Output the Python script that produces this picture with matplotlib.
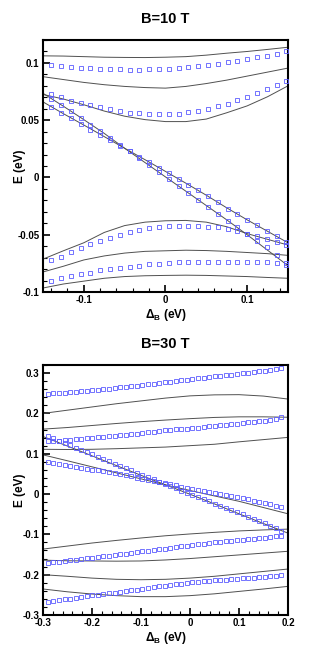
import numpy as np
import matplotlib
matplotlib.use("Agg")
import matplotlib.pyplot as plt
from matplotlib.ticker import MultipleLocator, FuncFormatter

plt.rcParams['font.family'] = ['Liberation Sans', 'DejaVu Sans']
plt.rcParams['axes.unicode_minus'] = False
plt.rcParams['mathtext.fontset'] = 'custom'
plt.rcParams['mathtext.bf'] = 'Liberation Sans:bold'
plt.rcParams['mathtext.rm'] = 'Liberation Sans'

# ---------------- B = 10 T ----------------
x_line10 = [-0.15, -0.125, -0.1, -0.075, -0.05, -0.025, 0.0, 0.025, 0.05, 0.075, 0.1, 0.125, 0.15]
t1 = [0.1062, 0.106, 0.1055, 0.105, 0.1048, 0.1047, 0.105, 0.1055, 0.1068, 0.1085, 0.110, 0.1118, 0.1137]
t2 = [0.088, 0.0855, 0.083, 0.081, 0.0795, 0.0785, 0.078, 0.0795, 0.082, 0.085, 0.0885, 0.092, 0.0955]
t3 = [0.0725, 0.0685, 0.0635, 0.058, 0.0535, 0.0505, 0.0488, 0.0488, 0.051, 0.0565, 0.0625, 0.0705, 0.080]
da_line = [0.066, 0.0557, 0.0458, 0.0357, 0.0255, 0.0155, 0.0053, -0.005, -0.0155, -0.0265, -0.037, -0.047, -0.057]
db_line = [0.0735, 0.0622, 0.0505, 0.0385, 0.0255, 0.013, 0.0005, -0.012, -0.0245, -0.037, -0.050, -0.0635, -0.077]
t4 = [-0.0713, -0.064, -0.057, -0.048, -0.042, -0.039, -0.0378, -0.0375, -0.039, -0.043, -0.049, -0.054, -0.059]
t5 = [-0.0825, -0.0775, -0.072, -0.0685, -0.066, -0.0645, -0.064, -0.0635, -0.0638, -0.0645, -0.0655, -0.0665, -0.068]
t6 = [-0.0965, -0.093, -0.0905, -0.088, -0.0865, -0.0858, -0.0855, -0.0853, -0.0855, -0.086, -0.0865, -0.0873, -0.088]

x_sq10 = [-0.14, -0.128, -0.116, -0.104, -0.092, -0.08, -0.068, -0.056, -0.044, -0.032, -0.02, -0.008,
          0.004, 0.016, 0.028, 0.04, 0.052, 0.064, 0.076, 0.088, 0.1, 0.112, 0.124, 0.136, 0.148]
s1 = [0.098, 0.0972, 0.0965, 0.0958, 0.0952, 0.0948, 0.0945, 0.0943, 0.0942, 0.0942, 0.0943, 0.0945,
      0.0947, 0.0959, 0.0968, 0.0974, 0.0982, 0.0991, 0.1006, 0.1018, 0.1032, 0.105, 0.1064, 0.1082, 0.1103]
s2 = [0.0728, 0.0699, 0.067, 0.0646, 0.0629, 0.0611, 0.0594, 0.0579, 0.0567, 0.0561, 0.0557, 0.0554,
      0.0553, 0.0558, 0.0568, 0.058, 0.0598, 0.062, 0.0645, 0.0673, 0.0703, 0.0735, 0.0769, 0.0807, 0.0845]
sa = [0.0617, 0.0567, 0.0515, 0.047, 0.0418, 0.0374, 0.033, 0.0278, 0.0231, 0.0183, 0.0135, 0.0086,
      0.0037, -0.0013, -0.0063, -0.0113, -0.0164, -0.0217, -0.0275, -0.032, -0.0368, -0.0415, -0.0465, -0.0515, -0.0561]
sb = [0.0685, 0.0632, 0.0579, 0.052, 0.0462, 0.0406, 0.0348, 0.0285, 0.0228, 0.017, 0.011, 0.0048,
      -0.0015, -0.0075, -0.0135, -0.0195, -0.0255, -0.032, -0.0377, -0.0436, -0.0494, -0.0553, -0.061, -0.0678, -0.0766]
s3 = [-0.0722, -0.069, -0.0652, -0.0617, -0.0582, -0.0553, -0.0529, -0.05, -0.048, -0.0459, -0.0444, -0.0436,
      -0.0427, -0.0424, -0.0421, -0.0424, -0.043, -0.0436, -0.045, -0.0465, -0.049, -0.051, -0.0538, -0.056, -0.059]
s4 = [-0.0904, -0.088, -0.086, -0.0845, -0.083, -0.0807, -0.0798, -0.0788, -0.0778, -0.0769, -0.0759, -0.0751,
      -0.0746, -0.0741, -0.0738, -0.0736, -0.0735, -0.0735, -0.0736, -0.0737, -0.0738, -0.074, -0.0742, -0.0745, -0.0745]

# ---------------- B = 30 T ----------------
x_line30 = [-0.3, -0.25, -0.2, -0.15, -0.1, -0.05, 0.0, 0.05, 0.1, 0.15, 0.2]
l1 = [0.2, 0.208, 0.216, 0.224, 0.231, 0.238, 0.2435, 0.246, 0.2465, 0.243, 0.2356]
l2 = [0.161, 0.165, 0.17, 0.175, 0.1795, 0.1835, 0.187, 0.19, 0.1915, 0.1915, 0.1905]
l3 = [0.111, 0.1105, 0.111, 0.1125, 0.1145, 0.1165, 0.12, 0.1235, 0.1295, 0.135, 0.1405]
d1 = [0.1427, 0.119, 0.0948, 0.0705, 0.0465, 0.0228, -0.0005, -0.0245, -0.049, -0.0732, -0.097]
d2 = [0.0972, 0.0825, 0.0675, 0.0525, 0.0377, 0.0227, 0.0088, -0.0047, -0.018, -0.0335, -0.049]
l4 = [-0.1365, -0.129, -0.1215, -0.115, -0.109, -0.1035, -0.099, -0.095, -0.0915, -0.089, -0.087]
l5 = [-0.164, -0.1655, -0.166, -0.1665, -0.166, -0.1635, -0.16, -0.1555, -0.151, -0.1465, -0.142]
l6 = [-0.2, -0.204, -0.2085, -0.2115, -0.2125, -0.2115, -0.2085, -0.204, -0.198, -0.192, -0.186]
l7 = [-0.2355, -0.2425, -0.248, -0.252, -0.2545, -0.2545, -0.252, -0.2475, -0.2415, -0.2355, -0.229]

x_sq30 = [-0.290, -0.2787, -0.2673, -0.2560, -0.2446, -0.2333, -0.2219, -0.2106, -0.1992, -0.1879, -0.1765,
          -0.1652, -0.1538, -0.1425, -0.1311, -0.1198, -0.1084, -0.0971, -0.0857, -0.0744, -0.0630, -0.0517,
          -0.0403, -0.0290, -0.0176, -0.0063, 0.0051, 0.0164, 0.0278, 0.0391, 0.0505, 0.0618, 0.0732,
          0.0845, 0.0959, 0.1072, 0.1186, 0.1299, 0.1413, 0.1526, 0.1640, 0.1753, 0.1867]
r1 = [0.2487, 0.2497, 0.2508, 0.2518, 0.2530, 0.2541, 0.2552, 0.2563, 0.2574, 0.2588, 0.2602, 0.2616, 0.2630,
      0.2644, 0.2659, 0.2674, 0.2689, 0.2704, 0.2722, 0.2739, 0.2756, 0.2773, 0.2789, 0.2805, 0.2820, 0.2836,
      0.2852, 0.2868, 0.2884, 0.2900, 0.2916, 0.2932, 0.2948, 0.2964, 0.2980, 0.2995, 0.3011, 0.3027, 0.3043,
      0.3060, 0.3080, 0.3101, 0.3125]
r2 = [0.1304, 0.1316, 0.1327, 0.1339, 0.1351, 0.1363, 0.1376, 0.1388, 0.1401, 0.1412, 0.1424, 0.1435, 0.1446,
      0.1458, 0.1472, 0.1486, 0.1499, 0.1514, 0.1530, 0.1546, 0.1562, 0.1578, 0.1590, 0.1601, 0.1613, 0.1624,
      0.1636, 0.1650, 0.1663, 0.1677, 0.1691, 0.1704, 0.1718, 0.1731, 0.1745, 0.1759, 0.1775, 0.1791, 0.1807,
      0.1823, 0.1846, 0.1870, 0.1900]
q1 = [0.145, 0.139, 0.1328, 0.1266, 0.1205, 0.1148, 0.1091, 0.1035, 0.0981, 0.0924, 0.0867, 0.0810, 0.0754,
      0.0698, 0.0643, 0.0587, 0.0531, 0.0476, 0.0420, 0.0365, 0.0310, 0.0253, 0.0197, 0.0142, 0.0086, 0.0031,
      -0.0024, -0.0077, -0.0131, -0.0184, -0.0237, -0.0290, -0.0343, -0.0396, -0.0450, -0.0504, -0.0560,
      -0.0615, -0.0671, -0.0726, -0.0785, -0.0845, -0.0910]
q2 = [0.0785, 0.0762, 0.0740, 0.0717, 0.0694, 0.0672, 0.0651, 0.0629, 0.0608, 0.0585, 0.0562, 0.0540, 0.0517,
      0.0492, 0.0465, 0.0437, 0.0410, 0.0383, 0.0355, 0.0328, 0.0301, 0.0274, 0.0245, 0.0215, 0.0186, 0.0156,
      0.0127, 0.0100, 0.0073, 0.0046, 0.0019, -0.0006, -0.0031, -0.0056, -0.0081, -0.0108, -0.0135, -0.0162,
      -0.0190, -0.0218, -0.0253, -0.0288, -0.0325]
r3 = [-0.1716, -0.1697, -0.1678, -0.1660, -0.1641, -0.1626, -0.1611, -0.1597, -0.1582, -0.1564, -0.1546,
      -0.1528, -0.1510, -0.1493, -0.1475, -0.1457, -0.1439, -0.1421, -0.1403, -0.1386, -0.1369, -0.1352,
      -0.1335, -0.1318, -0.1301, -0.1284, -0.1267, -0.1249, -0.1231, -0.1213, -0.1194, -0.1181, -0.1168,
      -0.1155, -0.1142, -0.1129, -0.1116, -0.1103, -0.1090, -0.1078, -0.1064, -0.1050, -0.1035]
r4 = [-0.2670, -0.2650, -0.2630, -0.2611, -0.2592, -0.2573, -0.2553, -0.2534, -0.2514, -0.2497, -0.2480,
      -0.2463, -0.2445, -0.2427, -0.2409, -0.2390, -0.2372, -0.2354, -0.2334, -0.2313, -0.2293, -0.2272,
      -0.2255, -0.2240, -0.2224, -0.2208, -0.2193, -0.2180, -0.2168, -0.2156, -0.2144, -0.2134, -0.2124,
      -0.2114, -0.2104, -0.2094, -0.2084, -0.2074, -0.2063, -0.2053, -0.2043, -0.2033, -0.2020]

line_col = '#505050'
sq_col = '#5c5cff'


def fmt(v, pos):
    s = f'{v:.3f}'.rstrip('0').rstrip('.')
    if s in ('-0', ''):
        s = '0'
    return s


def style(ax, xmaj, xmin, ymaj, ymin):
    ax.xaxis.set_major_locator(MultipleLocator(xmaj))
    ax.xaxis.set_minor_locator(MultipleLocator(xmin))
    ax.yaxis.set_major_locator(MultipleLocator(ymaj))
    ax.yaxis.set_minor_locator(MultipleLocator(ymin))
    ax.xaxis.set_major_formatter(FuncFormatter(fmt))
    ax.yaxis.set_major_formatter(FuncFormatter(fmt))
    ax.tick_params(which='major', direction='in', length=5, width=1.2,
                   labelsize=7, pad=2.5, top=False, right=False)
    ax.tick_params(which='minor', direction='in', length=2.8, width=0.8,
                   top=False, right=False)
    for lab in ax.get_xticklabels() + ax.get_yticklabels():
        lab.set_fontweight('bold')
    for sp in ax.spines.values():
        sp.set_linewidth(1.5)
    ax.set_xlabel(r'$\mathbf{\Delta_B}$ (eV)', fontsize=8.5, fontweight='bold', labelpad=1)
    ax.set_ylabel('E (eV)', fontsize=8.5, fontweight='bold')
    ax.yaxis.set_label_coords(-0.07, 0.5)


def squares(ax, x, y):
    ax.plot(x, y, 's', ms=2.7, mfc='none', mec=sq_col, mew=0.6, ls='none', zorder=3)


fig = plt.figure(figsize=(3.28, 6.53), dpi=100)

# top panel
ax1 = fig.add_axes([0.131, 0.5528, 0.747, 0.3859])
for yy in [t1, t2, t3, da_line, db_line, t4, t5, t6]:
    ax1.plot(x_line10, yy, color=line_col, lw=0.7, zorder=2)
for yy in [s1, s2, sa, sb, s3, s4]:
    squares(ax1, x_sq10, yy)
ax1.set_xlim(-0.15, 0.15)
ax1.set_ylim(-0.1, 0.12)
style(ax1, 0.1, 0.02, 0.05, 0.01)
ax1.set_title('B=10 T', fontsize=10.5, fontweight='bold', pad=12)

# bottom panel
ax2 = fig.add_axes([0.131, 0.0582, 0.747, 0.3828])
for yy in [l1, l2, l3, d1, d2, l4, l5, l6, l7]:
    ax2.plot(x_line30, yy, color=line_col, lw=0.7, zorder=2)
for yy in [r1, r2, q1, q2, r3, r4]:
    squares(ax2, x_sq30, yy)
ax2.set_xlim(-0.3, 0.2)
ax2.set_ylim(-0.3, 0.32)
style(ax2, 0.1, 0.02, 0.1, 0.02)
ax2.set_title('B=30 T', fontsize=10.5, fontweight='bold', pad=12)

fig.savefig('out.png', dpi=100)
